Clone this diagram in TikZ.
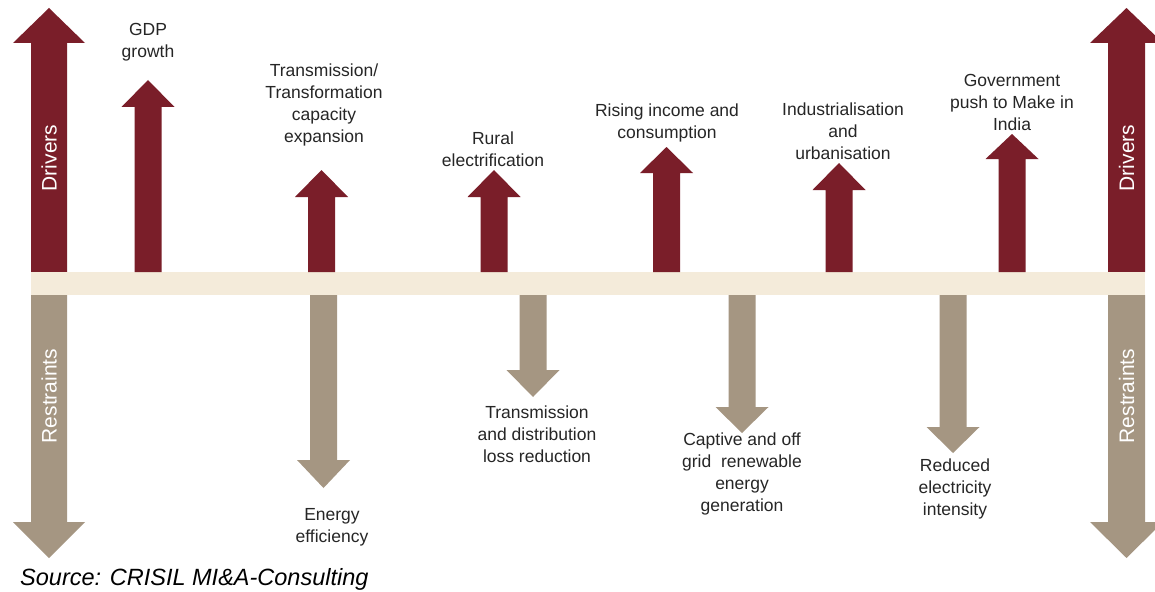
\documentclass[tikz,border=0pt]{standalone}
\usepackage{fontspec}
\setmainfont{Liberation Sans}
\definecolor{drvred}{HTML}{7A1E29}
\definecolor{rsttan}{HTML}{A59682}
\definecolor{bandc}{HTML}{F4EBDA}
\newcommand\drvup[4]{% cx, tip, headbase, bottom
  \fill[drvred] ({#1-13.5},#4) -- ({#1-13.5},#3) -- ({#1-26.5},#3) -- (#1,#2)
    -- ({#1+26.5},#3) -- ({#1+13.5},#3) -- ({#1+13.5},#4) -- cycle;}
\newcommand\rstdown[4]{% cx, top, headbase, tip
  \fill[rsttan] ({#1-13.5},#2) -- ({#1-13.5},#3) -- ({#1-26.5},#3) -- (#1,#4)
    -- ({#1+26.5},#3) -- ({#1+13.5},#3) -- ({#1+13.5},#2) -- cycle;}
\begin{document}
\begin{tikzpicture}[x=1pt,y=-1pt,
  lbl/.style={align=center,font=\fontsize{17.5}{22}\selectfont,text=black!85,inner sep=0pt},
  big/.style={rotate=90,text=white,font=\fontsize{21}{25}\selectfont,inner sep=0pt},
  src/.style={anchor=base west,font=\fontsize{23.5}{27}\selectfont\itshape,text=black,inner sep=0pt}]
\clip (0,0) rectangle (1155,591);
\fill[white] (0,0) rectangle (1155,591);
% big arrows
\fill[drvred] (31,272) -- (31,43) -- (13,43) -- (49,8) -- (85,43) -- (67,43) -- (67,272) -- cycle;
\fill[rsttan] (31,295) -- (31,522) -- (13,522) -- (49,558) -- (85,522) -- (67,522) -- (67,295) -- cycle;
\fill[drvred] (1108,272) -- (1108,43) -- (1090,43) -- (1126.5,8) -- (1163,43) -- (1145,43) -- (1145,272) -- cycle;
\fill[rsttan] (1108,295) -- (1108,522) -- (1090,522) -- (1126.5,558) -- (1163,522) -- (1145,522) -- (1145,295) -- cycle;
% band
\fill[bandc] (31,272) rectangle (1145,295);
% drivers arrows
\drvup{148}{80}{107}{272}
\drvup{321.5}{170}{197}{272}
\drvup{494}{170}{197}{272}
\drvup{666.5}{147}{173}{272}
\drvup{839}{163}{190}{272}
\drvup{1012}{134}{159}{272}
% restraint arrows
\rstdown{323.5}{295}{460}{488}
\rstdown{533}{295}{370}{397}
\rstdown{742}{295}{407}{433}
\rstdown{953}{295}{427}{453}
% side labels
\node[big] (dl) at (49,158) {Drivers};
\node[big] (rl) at (49,396) {Restraints};
\node[big] (dr) at (1126.5,158) {Drivers};
\node[big] (rr) at (1126.5,396) {Restraints};
% driver labels
\node[lbl] (gdp) at (148,42) {GDP\\growth};
\node[lbl] (tt) at (324,105) {Transmission/\\Transformation\\capacity\\expansion};
\node[lbl] (rur) at (493,149.5) {Rural\\electrification};
\node[lbl] (ris) at (667,122.5) {Rising income and\\consumption};
\node[lbl] (ind) at (843,131) {Industrialisation\\and\\urbanisation};
\node[lbl] (gov) at (1012,102) {Government\\push to Make in\\India};
% restraint labels
\node[lbl] (ee) at (332,527.5) {Energy\\efficiency};
\node[lbl] (td) at (537,434.5) {Transmission\\and distribution\\loss reduction};
\node[lbl] (cap) at (742,474) {Captive and off\\grid\ \ renewable\\energy\\generation};
\node[lbl] (red) at (955,489) {Reduced\\electricity\\intensity};
% source
\node[src] (source) at (20,585) {Source: CRISIL MI\&A-Consulting};
\end{tikzpicture}
\end{document}
